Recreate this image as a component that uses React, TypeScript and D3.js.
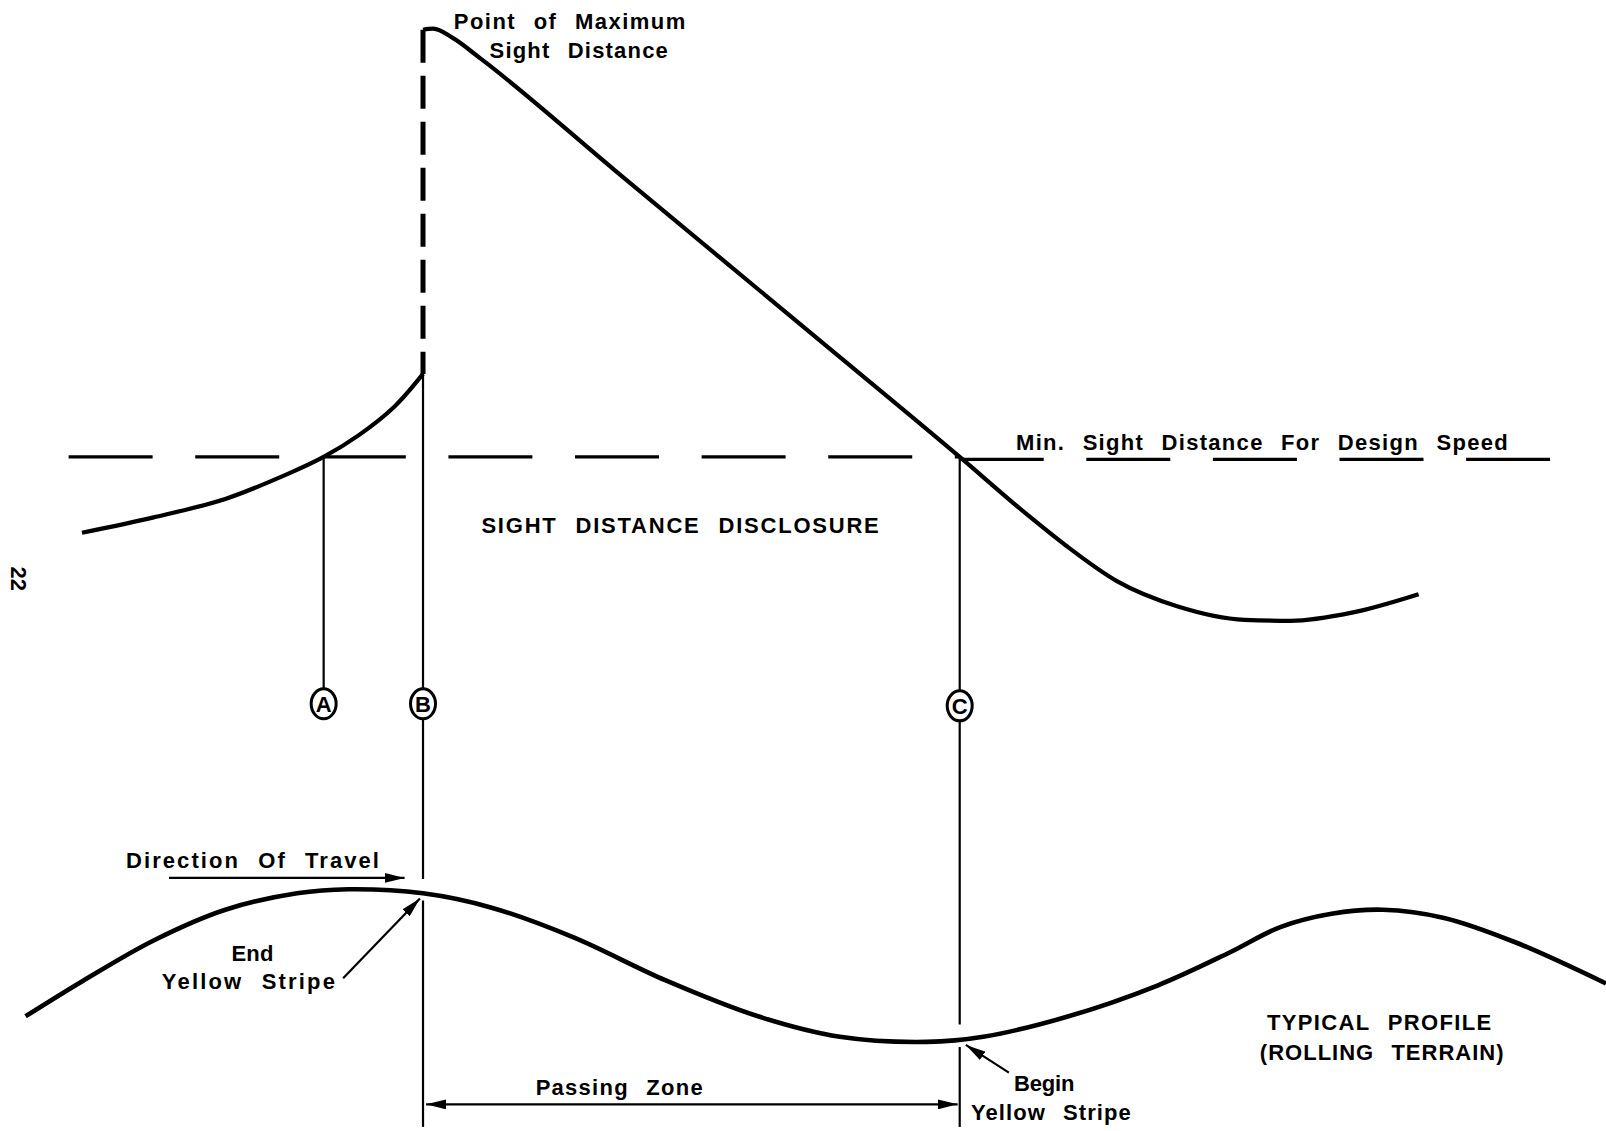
import React from 'react';
import * as d3 from 'd3';

const sightRise: [number, number][] = [
  [80, 520], [150, 505], [220, 487], [280, 463], [316, 446], [350, 425], [385, 397], [413, 365],
];
const sightFall: [number, number][] = [
  [413, 29], [423, 28], [442, 37], [469, 57], [600, 166], [800, 332], [937, 446],
  [1000, 500], [1040, 532], [1090, 567], [1150, 592], [1215, 605], [1260, 606], [1320, 598], [1385, 580],
];
const profile: [number, number][] = [
  [25, 992], [80, 958], [150, 918], [220, 888], [290, 872], [340, 868], [413, 872], [480, 886],
  [560, 915], [650, 957], [740, 992], [820, 1012], [905, 1017], [960, 1012], [1040, 993],
  [1130, 962], [1200, 930], [1250, 905], [1300, 892], [1350, 888], [1410, 896], [1480, 920], [1568, 960],
];
const minSightLevel = 446;
const stations = [
  { label: 'A', x: 316, top: 446, circle: 687, bottom: null as number | null, cut: null as [number, number] | null },
  { label: 'B', x: 413, top: 365, circle: 687, bottom: 1100, cut: [858, 879] as [number, number] },
  { label: 'C', x: 937, top: 446, circle: 689, bottom: 1100, cut: [1000, 1022] as [number, number] },
];
const labels: { text: string; x: number; y: number; w: number }[] = [
  { text: 'Point of Maximum', x: 443, y: 28, w: 226 },
  { text: 'Sight Distance', x: 478, y: 57, w: 174 },
  { text: 'Min. Sight Distance For Design Speed', x: 992, y: 439, w: 480 },
  { text: 'SIGHT DISTANCE DISCLOSURE', x: 470, y: 520, w: 388 },
  { text: 'Direction Of Travel', x: 123, y: 847, w: 247 },
  { text: 'End', x: 226, y: 938, w: 41 },
  { text: 'Yellow Stripe', x: 158, y: 965, w: 169 },
  { text: 'Passing Zone', x: 523, y: 1069, w: 163 },
  { text: 'Begin', x: 990, y: 1065, w: 59 },
  { text: 'Yellow Stripe', x: 948, y: 1093, w: 156 },
  { text: 'TYPICAL PROFILE', x: 1237, y: 1005, w: 219 },
  { text: '(ROLLING TERRAIN)', x: 1230, y: 1035, w: 238 },
];
const arrows: { from: [number, number]; to: [number, number]; both?: boolean }[] = [
  { from: [165, 857], to: [395, 857] },
  { from: [335, 955], to: [410, 877] },
  { from: [416, 1078], to: [935, 1078], both: true },
  { from: [985, 1047], to: [943, 1020] },
];

const W = 1606;
const H = 1131;

export default function App() {
  const x = d3.scaleLinear().domain([0, 1568]).range([0, W]);
  const y = d3.scaleLinear().domain([0, 1104]).range([0, H]);
  const smooth = d3.line<[number, number]>()
    .x(d => x(d[0]))
    .y(d => y(d[1]))
    .curve(d3.curveCatmullRom.alpha(0.5));
  // the long straight run keeps its shape better with a monotone curve
  const straightish = d3.line<[number, number]>()
    .x(d => x(d[0]))
    .y(d => y(d[1]))
    .curve(d3.curveMonotoneX);
  const font = 'Liberation Sans, Arial, sans-serif';
  const B = stations[1];

  return (
    <svg width={W} height={H} style={{ position: 'absolute', left: 0, top: 0, background: '#fff' }}>
      <defs>
        <marker id="head" viewBox="0 0 20 10" refX="20" refY="5" markerWidth="20" markerHeight="10"
          markerUnits="userSpaceOnUse" orient="auto-start-reverse">
          <path d="M0,0 L20,5 L0,10 Z" fill="#000" />
        </marker>
      </defs>

      {/* min sight distance level */}
      <line x1={x(67)} x2={x(937)} y1={y(minSightLevel)} y2={y(minSightLevel)}
        stroke="#000" strokeWidth={3.2} strokeDasharray="84 42.6" />
      <line x1={x(937)} x2={x(1515)} y1={y(minSightLevel + 2.5)} y2={y(minSightLevel + 2.5)}
        stroke="#000" strokeWidth={3.2} strokeDasharray="84 42.6" />

      {/* dashed line up to point of maximum sight distance */}
      <line x1={x(B.x)} x2={x(B.x)} y1={y(29)} y2={y(365)}
        stroke="#000" strokeWidth={5} strokeDasharray="33 13" />

      <path d={smooth(sightRise) ?? ''} fill="none" stroke="#000" strokeWidth={4.2} />
      <path d={straightish(sightFall) ?? ''} fill="none" stroke="#000" strokeWidth={4.2} strokeLinejoin="round" />
      <path d={smooth(profile) ?? ''} fill="none" stroke="#000" strokeWidth={4.6} />

      {stations.map(s => {
        const segs: [number, number][] = [[s.top, s.circle - 14]];
        if (s.bottom != null) {
          if (s.cut) {
            segs.push([s.circle + 14, s.cut[0]]);
            segs.push([s.cut[1], s.bottom]);
          } else segs.push([s.circle + 14, s.bottom]);
        }
        return (
          <g key={s.label}>
            {segs.map((sg, i) => (
              <line key={i} x1={x(s.x)} x2={x(s.x)} y1={y(sg[0])} y2={y(sg[1])} stroke="#000" strokeWidth={2.2} />
            ))}
            <ellipse cx={x(s.x)} cy={y(s.circle)} rx={12.5} ry={15} fill="#fff" stroke="#000" strokeWidth={3} />
            <text x={x(s.x)} y={y(s.circle) + 8} textAnchor="middle" fontFamily={font} fontSize={22}
              fontWeight="bold">{s.label}</text>
          </g>
        );
      })}

      {arrows.map((a, i) => (
        <line key={i} x1={x(a.from[0])} y1={y(a.from[1])} x2={x(a.to[0])} y2={y(a.to[1])}
          stroke="#000" strokeWidth={2.2}
          markerEnd="url(#head)" markerStart={a.both ? 'url(#head)' : undefined} />
      ))}

      {labels.map((l, i) => (
        <text key={i} x={x(l.x)} y={y(l.y)} fontFamily={font} fontSize={22} fontWeight="bold"
          textLength={x(l.w)} lengthAdjust="spacing" style={{ wordSpacing: '10px' }}>{l.text}</text>
      ))}

      <text transform={`translate(${x(11)},${y(565)}) rotate(90)`} textAnchor="middle"
        fontFamily={font} fontSize={22} fontWeight="bold">22</text>
    </svg>
  );
}
